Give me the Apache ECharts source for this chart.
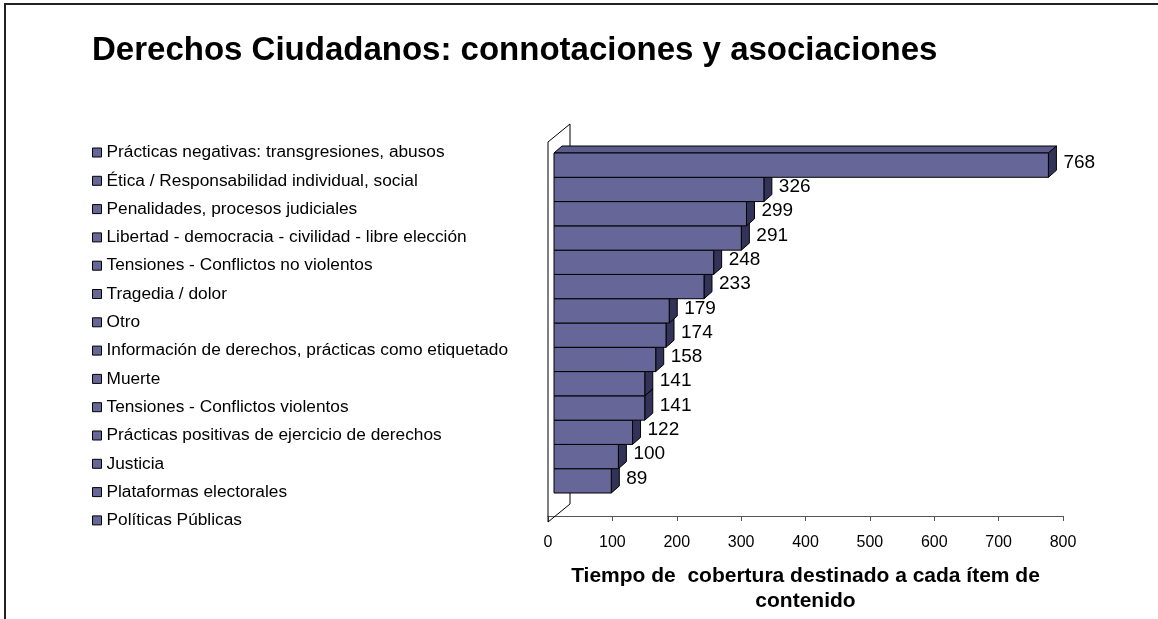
<!DOCTYPE html>
<html>
<head>
<meta charset="utf-8">
<script src="https://cdn.jsdelivr.net/npm/echarts@6/dist/echarts.min.js"></script>
<style>
  html, body { margin: 0; padding: 0; background: #fff; }
  #chart { width: 1158px; height: 619px; }
</style>
</head>
<body>
<div id="chart"></div>
<script>
// categories, top to bottom (same order as the legend)
const categories = [
  'Prácticas negativas: transgresiones, abusos',
  'Ética / Responsabilidad individual, social',
  'Penalidades, procesos judiciales',
  'Libertad - democracia - civilidad - libre elección',
  'Tensiones - Conflictos no violentos',
  'Tragedia / dolor',
  'Otro',
  'Información de derechos, prácticas como etiquetado',
  'Muerte',
  'Tensiones - Conflictos violentos',
  'Prácticas positivas de ejercicio de derechos',
  'Justicia',
  'Plataformas electorales',
  'Políticas Públicas'
]
const values = [768, 326, 299, 291, 248, 233, 179, 174, 158, 141, 141, 122, 100, 89]

const xMin = 0
const xMax = 800
const xStep = 100

const FONT = '"Liberation Sans", Arial, sans-serif'
const FRONT = '#666699'
const TOP = '#5c5c8c'
const SIDE = '#33335a'
// 3d depth of the boxes
const DX = 8
const DY = -7
const FRONT_SHIFT = 6

const chart = echarts.init(document.getElementById('chart'))

function renderBox(params, api) {
  const idx = api.value(1)
  const v = api.value(0)
  const start = api.coord([0, idx])
  const end = api.coord([v, idx])
  const h = api.size([0, 1])[1]
  const x0 = start[0] + FRONT_SHIFT
  const x1 = end[0] + FRONT_SHIFT
  const y0 = start[1] - h / 2
  const y1 = start[1] + h / 2
  const line = { stroke: '#000', lineWidth: 1 }
  return {
    type: 'group',
    children: [
      {
        type: 'polygon',
        shape: { points: [[x0, y0], [x0 + DX, y0 + DY], [x1 + DX, y0 + DY], [x1, y0]] },
        style: Object.assign({ fill: TOP }, line)
      },
      {
        type: 'polygon',
        shape: { points: [[x1, y0], [x1 + DX, y0 + DY], [x1 + DX, y1 + DY], [x1, y1]] },
        style: Object.assign({ fill: SIDE }, line)
      },
      {
        type: 'rect',
        shape: { x: x0, y: y0, width: x1 - x0, height: y1 - y0 },
        style: Object.assign({ fill: FRONT }, line)
      },
      {
        type: 'text',
        style: {
          text: String(v),
          x: x1 + DX + 7,
          y: (y0 + y1) / 2 + DY / 2 + 1,
          align: 'left',
          verticalAlign: 'middle',
          fill: '#000',
          font: '19px ' + FONT
        }
      }
    ]
  }
}

const series = categories.map((name, i) => ({
  name: name,
  type: 'custom',
  renderItem: renderBox,
  data: [[values[i], i]],
  encode: { x: 0, y: 1 },
  z: 10 + categories.length - i,
  itemStyle: { color: FRONT }
}))

const option = {
  animation: false,
  backgroundColor: '#fff',
  title: {
    text: 'Derechos Ciudadanos: connotaciones y asociaciones',
    left: 87,
    top: 29,
    textStyle: { fontFamily: FONT, fontSize: 33, fontWeight: 'bold', color: '#000' }
  },
  legend: {
    data: categories,
    orient: 'vertical',
    left: 87,
    top: 139,
    icon: 'rect',
    itemWidth: 9,
    itemHeight: 9,
    itemGap: 11.3,
    itemStyle: { borderColor: '#000', borderWidth: 1 },
    textStyle: { fontFamily: FONT, fontSize: 17.3, lineHeight: 17, color: '#000' },
    selectedMode: false
  },
  grid: {
    left: 548,
    right: 95,
    top: 153,
    bottom: 120
  },
  xAxis: {
    type: 'value',
    min: xMin,
    max: xMax,
    interval: xStep,
    offset: 23,
    axisLine: { show: true, lineStyle: { color: '#555', width: 1 } },
    axisTick: { show: true, length: 5, lineStyle: { color: '#555' } },
    splitLine: { show: false },
    axisLabel: { fontFamily: FONT, fontSize: 16, color: '#000', margin: 19 },
    name: 'Tiempo de  cobertura destinado a cada ítem de\ncontenido',
    nameLocation: 'middle',
    nameGap: 48,
    nameTextStyle: { fontFamily: FONT, fontSize: 21, fontWeight: 'bold', color: '#000', lineHeight: 25 }
  },
  yAxis: {
    type: 'category',
    data: categories,
    inverse: true,
    axisLine: { show: false },
    axisTick: { show: false },
    axisLabel: { show: false }
  },
  graphic: [
    {
      // outer frame of the chart area
      type: 'rect',
      z: 0,
      shape: { x: 5, y: 4, width: 2000, height: 2000 },
      style: { fill: null, stroke: '#222', lineWidth: 2 }
    },
    {
      // back wall and floor edge
      type: 'polyline',
      z: 1,
      shape: { points: [[548, 522], [548, 142], [570, 124], [570, 504], [548, 522]] },
      style: { fill: null, stroke: '#000', lineWidth: 1 }
    }
  ],
  series: series
}

chart.setOption(option)

window.addEventListener('resize', () => {
  chart.resize()
})
</script>
</body>
</html>
